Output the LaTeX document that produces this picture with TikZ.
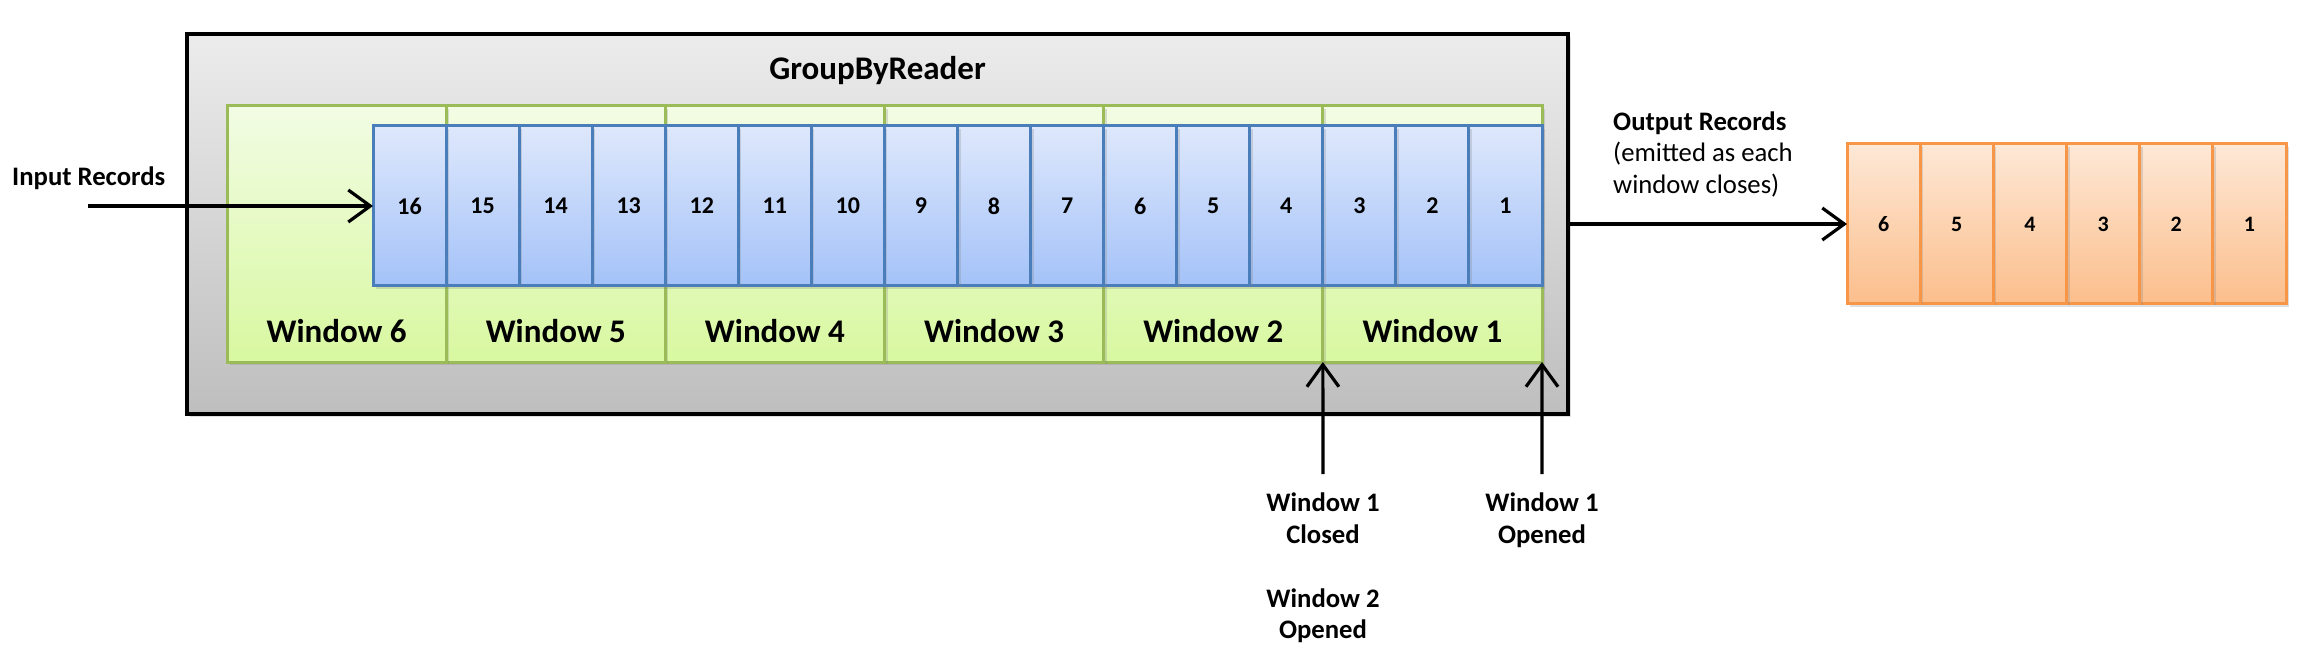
\documentclass[tikz,border=0pt]{standalone}
\usepackage{fontspec}
\setmainfont{Carlito}
\usetikzlibrary{arrows.meta,shadows}
\definecolor{grayT}{RGB}{236,236,236}
\definecolor{grayB}{RGB}{190,190,190}
\definecolor{greenT}{RGB}{242,252,228}
\definecolor{greenB}{RGB}{216,248,160}
\definecolor{greenD}{RGB}{155,187,89}
\definecolor{blueT}{RGB}{222,232,252}
\definecolor{blueB}{RGB}{164,194,248}
\definecolor{blueD}{RGB}{74,126,187}
\definecolor{orangeT}{RGB}{253,232,214}
\definecolor{orangeB}{RGB}{252,190,140}
\definecolor{orangeD}{RGB}{247,150,70}
\begin{document}
\begin{tikzpicture}[x=1pt,y=-1pt,
  shad/.style={drop shadow={shadow xshift=3pt,shadow yshift=-3pt,opacity=0.25}},
  gframe/.style={draw=black,line width=3.2pt,top color=grayT,bottom color=grayB,minimum width=1381pt,minimum height=380pt,anchor=north west,inner sep=0pt,outer sep=0pt,shad},
  winbox/.style={draw=greenD,line width=3pt,top color=greenT,bottom color=greenB,minimum width=219.17pt,minimum height=256pt,anchor=north west,inner sep=0pt,outer sep=0pt,shad},
  rec/.style={draw=blueD,line width=3pt,top color=blueT,bottom color=blueB,minimum width=73.06pt,minimum height=160pt,anchor=north west,inner sep=0pt,outer sep=0pt,shad,font=\fontsize{24}{28}\selectfont\bfseries},
  outrec/.style={draw=orangeD,line width=3pt,top color=orangeT,bottom color=orangeB,minimum width=73.17pt,minimum height=160pt,anchor=north west,inner sep=0pt,outer sep=0pt,shad,font=\fontsize{22}{26}\selectfont\bfseries},
  wlabel/.style={anchor=base,inner sep=0pt,font=\fontsize{33}{38}\selectfont\bfseries},
  ttl/.style={anchor=base,inner sep=0pt,font=\fontsize{33}{38}\selectfont\bfseries},
  lbl/.style={inner sep=0pt,font=\fontsize{26.7}{32}\selectfont\bfseries},
  lblr/.style={inner sep=0pt,font=\fontsize{26.7}{32}\selectfont},
  arr/.style={line width=3.2pt,-{Straight Barb[length=22pt,width=32pt,line width=3.2pt]}}
]
\useasboundingbox (0,0) rectangle (2311,668);
\node[gframe] (gbr) at (187,34) {};
\node[ttl] (title) at (877.5,80) {GroupByReader};
\foreach \k in {1,...,6} {
  \pgfmathsetmacro\wx{227+(6-\k)*219.17}
  \node[winbox] (w\k) at (\wx,106) {};
  \node[wlabel] (wl\k) at (\wx+109.585,342) {Window \k};
}
\foreach \n in {1,...,16} {
  \pgfmathsetmacro\bx{373+(16-\n)*73.0625}
  \node[rec] (b\n) at (\bx,126) {\n};
}
\foreach \n in {1,...,6} {
  \pgfmathsetmacro\ox{1847+(6-\n)*73.17}
  \node[outrec] (o\n) at (\ox,144) {\n};
}
% input
\node[lbl,anchor=base west] (inlbl) at (12,186) {Input Records};
\coordinate (inp) at (88,206);
\draw[arr] (inp) -- (b16.west);
% output
\draw[arr] (gbr.east) -- (o6.west);
\node[lbl,anchor=base west] (outlbl) at (1613,131) {Output Records};
\node[lblr,anchor=base west] (outl2) at (1613,162) {(emitted as each};
\node[lblr,anchor=base west] (outl3) at (1613,194) {window closes)};
% window markers
\coordinate (c1) at (1323,474);
\coordinate (c2) at (1542,474);
\draw[arr] (c1) -- (w1.south west);
\draw[arr] (c2) -- (w1.south east);
\node[lbl,anchor=base] (m1a) at (1323,511) {Window 1};
\node[lbl,anchor=base] (m1b) at (1323,543) {Closed};
\node[lbl,anchor=base] (m2a) at (1323,607) {Window 2};
\node[lbl,anchor=base] (m2b) at (1323,638) {Opened};
\node[lbl,anchor=base] (m3a) at (1542,511) {Window 1};
\node[lbl,anchor=base] (m3b) at (1542,543) {Opened};
\end{tikzpicture}
\end{document}
